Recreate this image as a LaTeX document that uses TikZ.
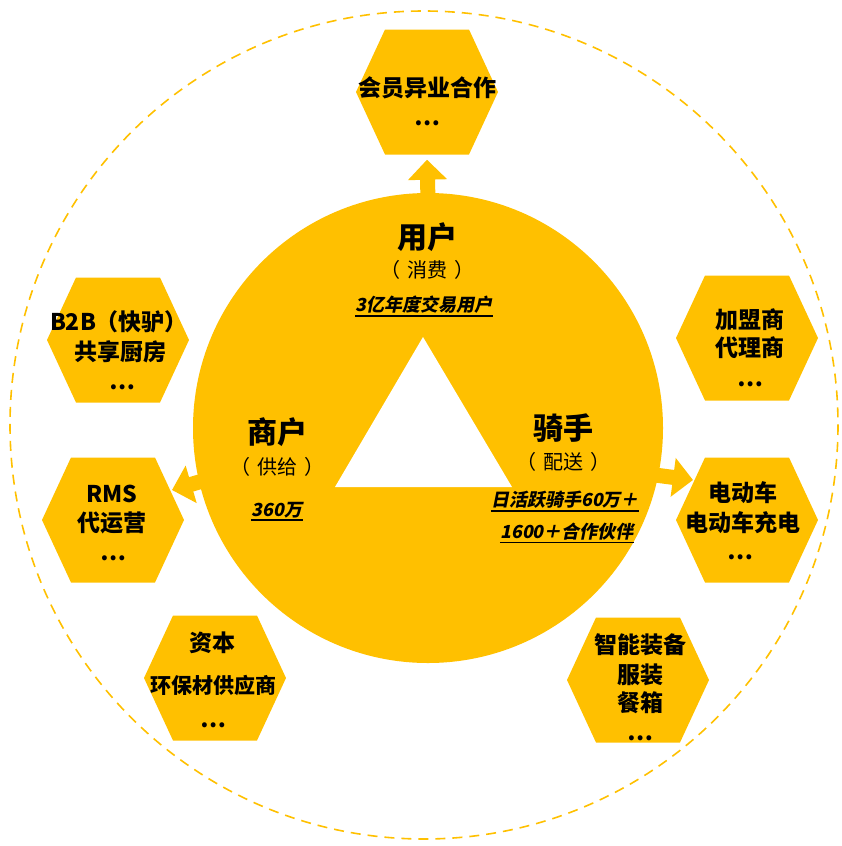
\documentclass[tikz,border=0pt]{standalone}
\usepackage{fontspec}
\newfontfamily\cjk{Noto Sans CJK SC}
\newfontfamily\cjksl{Noto Sans CJK SC}[FakeSlant=0.2]
\usetikzlibrary{arrows.meta,calc}
\definecolor{gold}{HTML}{FFC000}
\newcommand{\pgap}{\hspace{0.35em}}
\begin{document}
\begin{tikzpicture}[x=1pt,y=-1pt,
  hexnode/.style={minimum width=142pt, minimum height=125pt, inner sep=0pt,
    path picture={\fill[gold]
      ([xshift=-42pt]path picture bounding box.north) --
      ([xshift=42pt]path picture bounding box.north) --
      (path picture bounding box.east) --
      ([xshift=42pt]path picture bounding box.south) --
      ([xshift=-42pt]path picture bounding box.south) --
      (path picture bounding box.west) -- cycle;}},
  title/.style={font=\cjk\bfseries\fontsize{30}{34}\selectfont, inner sep=0pt},
  subt/.style={font=\cjk\fontsize{20}{24}\selectfont, inner sep=0pt},
  stat/.style={font=\cjksl\bfseries\fontsize{18}{22}\selectfont, inner sep=0pt},
  hx/.style={font=\cjk\bfseries\fontsize{23}{27}\selectfont, inner sep=0pt},
  hxs/.style={font=\cjk\bfseries\fontsize{21}{25}\selectfont, inner sep=0pt},
  bigarrow/.style={draw=gold, line width=15pt, -{Triangle[width=38pt,length=20pt]}},
  uline/.style={draw=black, line width=1.3pt}
]
\useasboundingbox (0,0) rectangle (841,846);

% outer dashed circle
\draw[gold, line width=1.6pt, dash pattern=on 10pt off 7pt] (424,425) circle[radius=414];

% core circle
\node[circle, fill=gold, minimum size=470pt, inner sep=0pt] (core) at (428,428) {};
\fill[white] (423,337) -- (512,487) -- (335,487) -- cycle;

% hexagons
\node[hexnode] (top) at (427,92) {};
\node[hexnode] (b2b) at (118,340) {};
\node[hexnode] (rms) at (113,520) {};
\node[hexnode] (zb)  at (215,678) {};
\node[hexnode] (jm)  at (747,338) {};
\node[hexnode] (dd)  at (747,520) {};
\node[hexnode] (zn)  at (638,680) {};

% arrows
\coordinate (ltip) at (172,490);
\coordinate (rtip) at (693,480);
\draw[bigarrow] ($(core.center)!0.97!(core.north)$) -- ([yshift=-5pt]top.south);
\draw[bigarrow] ($(core.center)!0.92!(core.193.6)$) -- (ltip);
\draw[bigarrow] ($(core.center)!0.92!(core.348.9)$) -- (rtip);

% centre texts
\node[title] (t1) at (427,237) {用户};
\node[subt] (t1s) at (427,270) {（\pgap 消费\pgap ）};
\node[stat] (t1n) at (424,305) {3亿年度交易用户};
\draw[uline] ([yshift=-2pt]t1n.south west) -- ([yshift=-2pt]t1n.south east);

\node[title] (t2) at (277,432) {商户};
\node[subt] (t2s) at (277,467) {（\pgap 供给\pgap ）};
\node[stat] (t2n) at (277,510) {360万};
\draw[uline] ([yshift=-2pt]t2n.south west) -- ([yshift=-2pt]t2n.south east);

\node[title] (t3) at (563,428) {骑手};
\node[subt] (t3s) at (563,462) {（\pgap 配送\pgap ）};
\node[stat] (t3n) at (565,500) {日活跃骑手60万＋};
\draw[uline] ([yshift=-2pt]t3n.south west) -- ([yshift=-2pt]t3n.south east);
\node[stat] (t3m) at (567,532) {1600＋合作伙伴};
\draw[uline] ([yshift=-2pt]t3m.south west) -- ([yshift=-2pt]t3m.south east);

% hexagon texts
\node[hx] (a1) at (427,88) {会员异业合作};
\node[hx] (a2) at (427,123) {…};

\node[hx] (b1) at (119,322) {B2B（快驴）};
\node[hx] (b2) at (120,352) {共享厨房};
\node[hx] (b3) at (122,387) {…};

\node[hx] (c1) at (112,494) {RMS};
\node[hx] (c2) at (112,523) {代运营};
\node[hx] (c3) at (113,558) {…};

\node[hx] (d1) at (212,643) {资本};
\node[hxs] (d2) at (213,685) {环保材供应商};
\node[hx] (d3) at (213,725) {…};

\node[hx] (e1) at (750,320) {加盟商};
\node[hx] (e2) at (750,348) {代理商};
\node[hx] (e3) at (750,384) {…};

\node[hx] (f1) at (743,493) {电动车};
\node[hx] (f2) at (743,523) {电动车充电};
\node[hx] (f3) at (740,557) {…};

\node[hx] (g1) at (640,645) {智能装备};
\node[hx] (g2) at (640,675) {服装};
\node[hx] (g3) at (640,703) {餐箱};
\node[hx] (g4) at (640,738) {…};
\end{tikzpicture}
\end{document}
